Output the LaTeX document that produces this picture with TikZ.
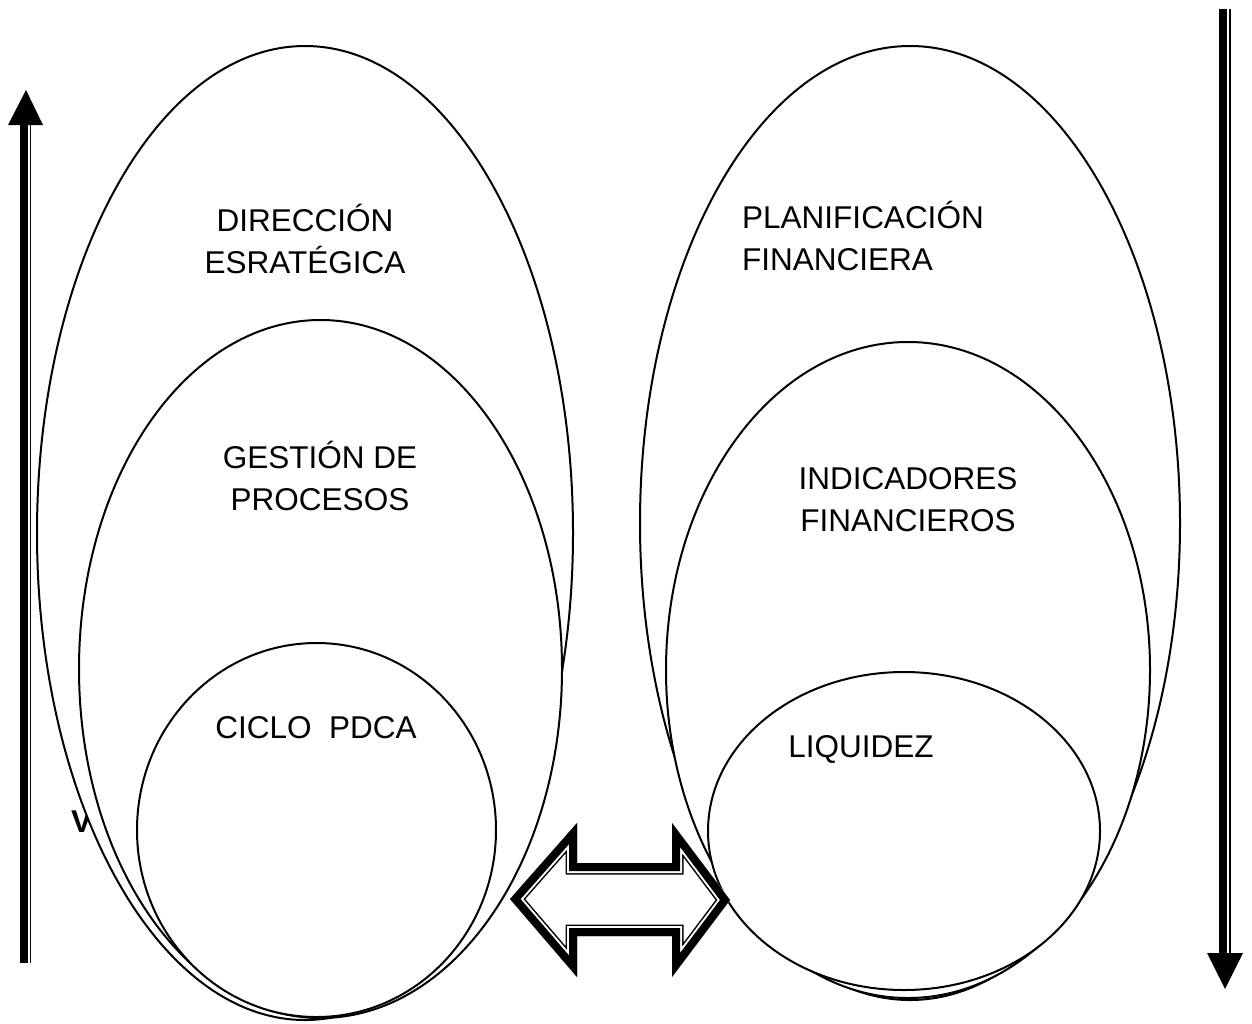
\documentclass[tikz,border=0pt]{standalone}
\usepackage{fontspec}
\setmainfont{Liberation Sans}
\newcommand\twowayoutline{(510,899) -- (577,823) -- (577,863) -- (672,863) -- (672,823) -- (730,900) -- (672,977) -- (672,936) -- (577,936) -- (577,977) -- cycle}
\begin{document}
\begin{tikzpicture}[x=1pt,y=-1pt,
  bubble/.style={draw=black, fill=white, line width=2pt},
  lbl/.style={font=\fontsize{31.5}{42}\selectfont, inner sep=0pt, align=center, anchor=base},
  lblleft/.style={lbl, align=left, anchor=base west}]
\useasboundingbox (0,0) rectangle (1252,1023);

% upward arrow on the left
\fill (19.5,125) rectangle (27.5,963);
\fill (29.5,125) rectangle (31,963);
\fill (8,125) -- (43,125) -- (26,90) -- cycle;

% downward arrow on the right
\fill (1218.5,9) rectangle (1226.5,953);
\fill (1229,9) rectangle (1230.5,953);
\fill (1207,953) -- (1243,953) -- (1225,989) -- cycle;

% letter partly covered by the outer ellipse
\node[font=\fontsize{31.5}{38}\selectfont\bfseries, anchor=base west, inner sep=0pt] (v) at (71,832) {V};

% left group of nested ellipses
\coordinate (lo) at (305,533);
\coordinate (lm) at (320.5,669);
\coordinate (li) at (316.5,830);
\draw[bubble] (lo) ellipse [x radius=268pt, y radius=487pt];
\draw[bubble] (lm) ellipse [x radius=241.5pt, y radius=349pt];
\draw[bubble] (li) ellipse [x radius=179.5pt, y radius=187pt];

% right group of nested ellipses
\coordinate (ro) at (910,523);
\coordinate (rm) at (908,670);
\coordinate (ri) at (904,831);
\draw[bubble] (ro) ellipse [x radius=270pt, y radius=477pt];
\draw[bubble] (rm) ellipse [x radius=242pt, y radius=328pt];
\draw[bubble] (ri) ellipse [x radius=196pt, y radius=159pt];

% texts (base anchor sits on the last line)
\node[lbl] (dir) at (305,273) {DIRECCIÓN\\ESRATÉGICA};
\node[lbl] (ges) at (320,510) {GESTIÓN DE\\PROCESOS};
\node[lbl] (pdca) at (316,738) {CICLO\ \ PDCA};
\node[lblleft] (plan) at (742,270) {PLANIFICACIÓN\\FINANCIERA};
\node[lbl] (ind) at (908,531) {INDICADORES\\FINANCIEROS};
\node[lbl] (liq) at (861,757) {LIQUIDEZ};

% two-way block arrow with thick-thin outline
\begin{scope}
  \clip \twowayoutline;
  \fill[white] \twowayoutline;
  \draw[line width=23pt] \twowayoutline;
  \draw[white, line width=20pt] \twowayoutline;
  \draw[line width=16pt] \twowayoutline;
\end{scope}
\end{tikzpicture}
\end{document}
